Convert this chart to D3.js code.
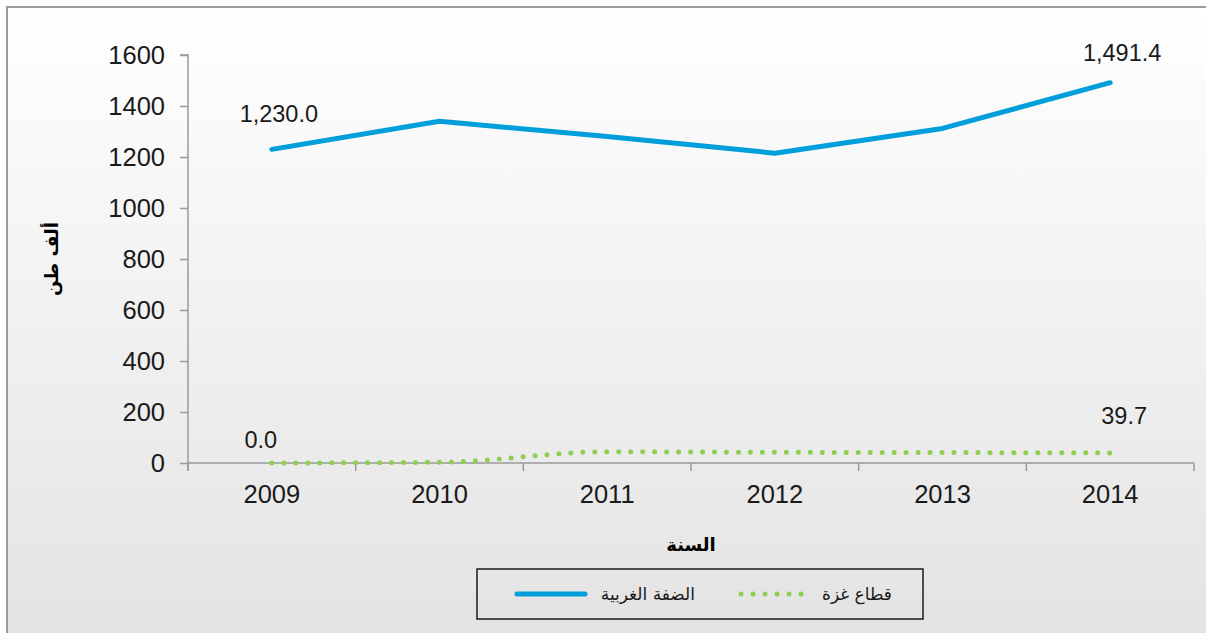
<!DOCTYPE html>
<html lang="ar">
<head>
<meta charset="utf-8">
<script src="https://cdn.jsdelivr.net/npm/d3@7/dist/d3.min.js"></script>
<style>
  html, body { margin: 0; padding: 0; background: #ffffff; }
  svg { display: block; font-family: "Liberation Sans", Arial, sans-serif; }
  .tick text { fill: #1a1a1a; }
</style>
</head>
<body>
<div id="chart"></div>
<script>
"use strict";

// data
const years = ["2009", "2010", "2011", "2012", "2013", "2014"];
const westBank = [1230.0, 1340, 1280, 1215, 1312, 1491.4];
const gaza = [0.0, 3, 44, 42, 41, 39.7];
const yTicks = [0, 200, 400, 600, 800, 1000, 1200, 1400, 1600];
const seriesNames = ["الضفة الغربية", "قطاع غزة"];

const W = 1206, H = 633;
const margin = { left: 188, right: 12, top: 55, bottom: 170 };

const svg = d3.select("#chart")
   .append("svg")
   .attr("width", W)
   .attr("height", H);

// background gradient like the office chart area
const grad = svg.append("defs").append("linearGradient")
   .attr("id", "bg")
   .attr("x1", 0).attr("y1", 0).attr("x2", 0).attr("y2", 1);
grad.append("stop").attr("offset", "0%").attr("stop-color", "#ffffff");
grad.append("stop").attr("offset", "100%").attr("stop-color", "#e2e2e2");

svg.append("rect")
   .attr("x", 7).attr("y", 7)
   .attr("width", W + 20).attr("height", H + 20)
   .attr("fill", "url(#bg)")
   .attr("stroke", "#9c9c9c")
   .attr("stroke-width", 2);

const x = d3.scaleBand()
   .domain(years)
   .range([margin.left, 1194])
   .paddingInner(0)
   .paddingOuter(0);

const y = d3.scaleLinear()
   .domain([0, 1600])
   .range([463, 55]);

const cx = d => x(d) + x.bandwidth() / 2;
const tickFont = 25.5;

// y axis
const yAxis = svg.append("g")
   .attr("transform", `translate(${margin.left},0)`)
   .call(d3.axisLeft(y).tickValues(yTicks).tickSize(8).tickPadding(15).tickFormat(d3.format("d")));
yAxis.attr("font-family", null).attr("font-size", null);
yAxis.selectAll("text").style("font-size", tickFont + "px");

// x axis, ticks between categories
const xAxis = svg.append("g")
   .attr("transform", `translate(0,${y(0)})`)
   .call(d3.axisBottom(x).tickSize(0).tickPadding(22));
xAxis.attr("font-family", null).attr("font-size", null);
xAxis.selectAll("text").style("font-size", tickFont + "px");
xAxis.select(".domain").remove();
xAxis.append("line")
   .attr("x1", margin.left).attr("x2", 1194)
   .attr("stroke", "#9a9a9a").attr("stroke-width", 1.5);
const bounds = years.map(d => x(d)).concat([x(years[years.length - 1]) + x.bandwidth()]);
xAxis.selectAll(".sep")
   .data(bounds)
   .join("line")
   .attr("class", "sep")
   .attr("x1", d => d).attr("x2", d => d)
   .attr("y1", 0).attr("y2", 8)
   .attr("stroke", "#9a9a9a").attr("stroke-width", 1.5);

yAxis.select(".domain").attr("d", `M-8,${y(1600)}H0V${y(0) + 8}`)
   .attr("stroke", "#9a9a9a").attr("stroke-width", 1.5);
yAxis.selectAll(".tick line").attr("stroke", "#9a9a9a").attr("stroke-width", 1.5);

// axis titles
svg.append("text")
   .attr("transform", `translate(58,${(y(0) + y(1600)) / 2}) rotate(-90)`)
   .attr("text-anchor", "middle")
   .attr("font-size", 18)
   .attr("font-weight", "bold")
   .attr("font-family", "DejaVu Sans, sans-serif")
   .attr("direction", "rtl")
   .text("ألف طن");

svg.append("text")
   .attr("x", (margin.left + 1194) / 2)
   .attr("y", 551)
   .attr("text-anchor", "middle")
   .attr("font-size", 18)
   .attr("font-weight", "bold")
   .attr("font-family", "DejaVu Sans, sans-serif")
   .attr("direction", "rtl")
   .text("السنة");

// lines
const wbLine = d3.line()
   .x((d, i) => cx(years[i]))
   .y(d => y(d));

const gzLine = d3.line()
   .x((d, i) => cx(years[i]))
   .y(d => y(d))
   .curve(d3.curveMonotoneX);

const gzPath = svg.append("path")
   .datum(gaza)
   .attr("d", gzLine)
   .attr("fill", "none")
   .attr("stroke", "#8fcf4f")
   .attr("stroke-width", 5)
   .attr("stroke-linecap", "round");
// fit the dot spacing so a dot lands on both ends
const gzLen = gzPath.node().getTotalLength();
gzPath.attr("stroke-dasharray", `0 ${(gzLen - 0.5) / Math.round(gzLen / 12)}`);

svg.append("path")
   .datum(westBank)
   .attr("d", wbLine)
   .attr("fill", "none")
   .attr("stroke", "#009fdc")
   .attr("stroke-width", 5)
   .attr("stroke-linecap", "round")
   .attr("stroke-linejoin", "round");

// data labels at first and last point
const fmt = d3.format(",.1f");
const labelFont = 23.5;
function label(i, v, dx, dy) {
   svg.append("text")
      .attr("x", cx(years[i]) + dx)
      .attr("y", y(v) + dy)
      .attr("text-anchor", "middle")
      .attr("font-size", labelFont)
      .attr("fill", "#1a1a1a")
      .text(fmt(v));
}
label(0, westBank[0], 7, -27);
label(5, westBank[5], 12, -22);
label(0, gaza[0], -11, -15);
label(5, gaza[5], 14, -29);

// legend
const lg = svg.append("g");
lg.append("rect")
   .attr("x", 477).attr("y", 569)
   .attr("width", 446).attr("height", 50)
   .attr("fill", "none")
   .attr("stroke", "#1a1a1a")
   .attr("stroke-width", 1.5);

lg.append("line")
   .attr("x1", 517).attr("x2", 585)
   .attr("y1", 594).attr("y2", 594)
   .attr("stroke", "#009fdc").attr("stroke-width", 5).attr("stroke-linecap", "round");
lg.append("text")
   .attr("x", 695).attr("y", 600)
   .attr("text-anchor", "start")
   .attr("direction", "rtl")
   .attr("font-size", 17)
   .attr("font-family", "DejaVu Sans, sans-serif")
   .attr("fill", "#1a1a1a")
   .text(seriesNames[0]);

lg.append("line")
   .attr("x1", 741).attr("x2", 802)
   .attr("y1", 594).attr("y2", 594)
   .attr("stroke", "#8fcf4f").attr("stroke-width", 5).attr("stroke-linecap", "round")
   .attr("stroke-dasharray", "0 12");
lg.append("text")
   .attr("x", 892).attr("y", 600)
   .attr("text-anchor", "start")
   .attr("direction", "rtl")
   .attr("font-size", 17)
   .attr("font-family", "DejaVu Sans, sans-serif")
   .attr("fill", "#1a1a1a")
   .text(seriesNames[1]);
</script>
</body>
</html>
